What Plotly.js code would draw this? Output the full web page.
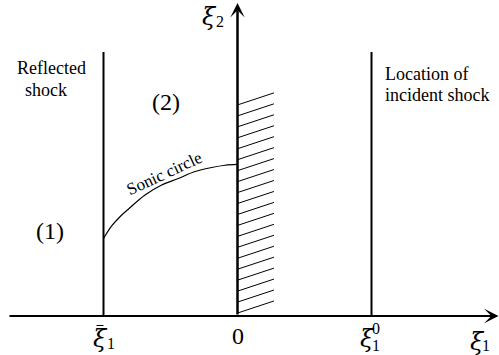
<!DOCTYPE html>
<html>
<head>
<meta charset="utf-8">
<script src="https://cdn.plot.ly/plotly-3.0.1.min.js"></script>
<style>html,body{margin:0;padding:0;background:#fff;}#chart{width:499px;height:355px;}</style>
</head>
<body>
<div id="chart"></div>
<script>
// ---- data (ξ1, ξ2 plane; shock positions normalised so ξ̄1 = -1, ξ1^0 = 1) ----
const reflectedShockXi1 = -1.0;     // ξ̄1
const incidentShockXi1 = 1.0;       // ξ1^0
const shockTopXi2 = 1.97;
const sonicXi1 = [-1.000, -0.939, -0.877, -0.813, -0.690, -0.566, -0.442, -0.317, -0.193, -0.093, 0.000];
const sonicXi2 = [0.578, 0.672, 0.741, 0.799, 0.903, 0.978, 1.026, 1.078, 1.108, 1.125, 1.131];
const wallTopXi2 = 1.575;
const wallBottomXi2 = 0.022;
const wallWidthXi1 = 0.272;
const wallRiseXi2 = 0.09;
const hatchCount = 20;
const tickLabels = ['ξ̄1', '0', 'ξ1⁰'];
const tickPositions = [reflectedShockXi1, 0, incidentShockXi1];
const xAxisStart = -1.713, xAxisEnd = 1.948;
const yAxisEnd = 2.336;

// ---- pixel helpers for placement only ----
const S = 134, OX = 237.5, OY = 316;
const dx = p => (p - OX) / S;
const dy = p => (OY - p) / S;

const black = '#000';
const traces = [];
traces.push({x:[reflectedShockXi1, reflectedShockXi1], y:[0, shockTopXi2], mode:'lines', line:{color:black, width:2}, hoverinfo:'skip'});
traces.push({x:[incidentShockXi1, incidentShockXi1], y:[0, shockTopXi2], mode:'lines', line:{color:black, width:2}, hoverinfo:'skip'});
traces.push({x:sonicXi1, y:sonicXi2, mode:'lines', line:{color:black, width:1.2, shape:'spline'}, hoverinfo:'skip'});
// hatching of the wall
const hx = [], hy = [];
const step = (wallTopXi2 - wallBottomXi2) / (hatchCount - 1);
for (let i = 0; i < hatchCount; i++) {
  const y0 = wallBottomXi2 + i * step;
  hx.push(0, wallWidthXi1, null);
  hy.push(y0, y0 + wallRiseXi2, null);
}
traces.push({x:hx, y:hy, mode:'lines', line:{color:black, width:1}, hoverinfo:'skip', connectgaps:false});
// short bar over the ξ of the ξ̄1 tick label
traces.push({x:[reflectedShockXi1 - 0.052, reflectedShockXi1 + 0.0], y:[dy(325.5), dy(325.5)], mode:'lines', line:{color:black, width:1}, hoverinfo:'skip'});

const serif = '"Liberation Serif", "Times New Roman", Times, serif';
const mathSerif = '"DejaVu Serif", "Liberation Serif", serif';
const ann = [];
// axes with arrows
ann.push({x:xAxisEnd, y:0, ax:xAxisStart, ay:0, xref:'x', yref:'y', axref:'x', ayref:'y', text:'', showarrow:true, arrowhead:3, arrowwidth:2, arrowsize:1.2, arrowcolor:black, standoff:0, startstandoff:0});
ann.push({x:0, y:yAxisEnd, ax:0, ay:0, xref:'x', yref:'y', axref:'x', ayref:'y', text:'', showarrow:true, arrowhead:3, arrowwidth:2.5, arrowsize:0.96, arrowcolor:black, standoff:0, startstandoff:0});

function txt(text, px, py, size, opts, fam) {
  return Object.assign({x:dx(px), y:dy(py), xref:'x', yref:'y', text:text, showarrow:false,
    font:{family:fam || serif, size:size, color:black}, xanchor:'center', yanchor:'middle'}, opts || {});
}
ann.push(txt('Reflected', 51.5, 68, 18));
ann.push(txt('shock', 46, 89.5, 18));
ann.push(txt('Location of', 382.5, 73.5, 18, {xanchor:'left'}));
ann.push(txt('incident shock', 383, 94.5, 18, {xanchor:'left'}));
ann.push(txt('Sonic circle', 164.5, 173.5, 17, {textangle:-25}));
ann.push(txt('(2)', 166, 102, 24));
ann.push(txt('(1)', 50, 231, 24));
// axis labels
ann.push(txt('<i>ξ</i>', 209, 17, 24, {}, mathSerif));
ann.push(txt('2', 219.5, 21, 16));
ann.push(txt('<i>ξ</i>', 477, 342, 24, {}, mathSerif));
ann.push(txt('1', 486, 345, 16));
// tick labels
ann.push(txt('<i>ξ</i>', 100, 339, 24, {}, mathSerif));
ann.push(txt('1', 111, 343, 16));
ann.push(txt(tickLabels[1], 237.5, 336, 24));
ann.push(txt('<i>ξ</i>', 367, 339, 24, {}, mathSerif));
ann.push(txt('0', 375.5, 328, 16));
ann.push(txt('1', 375.5, 345, 16));

const layout = {
  width:499, height:355, margin:{l:0, r:0, t:0, b:0},
  paper_bgcolor:'#fff', plot_bgcolor:'#fff', showlegend:false,
  xaxis:{range:[dx(0), dx(499)], visible:false, fixedrange:true},
  yaxis:{range:[dy(355), dy(0)], visible:false, fixedrange:true},
  annotations:ann
};
Plotly.newPlot('chart', traces, layout, {staticPlot:true, displayModeBar:false});
</script>
</body>
</html>
